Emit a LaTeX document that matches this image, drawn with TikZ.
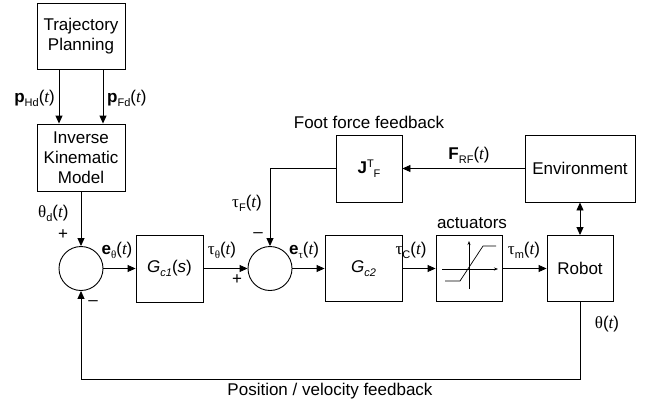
\documentclass[tikz,border=0pt]{standalone}
\usepackage{fontspec}
\setmainfont{Liberation Sans}
\newfontfamily\serifgr{Liberation Serif}
\usetikzlibrary{arrows.meta}
\newcommand\sbx[1]{\raisebox{-4pt}{\fontsize{11}{11}\selectfont #1}}
\newcommand\spx[1]{\raisebox{6pt}{\fontsize{11}{11}\selectfont #1}}
\newcommand\tvar{{\serifgr\itshape t}}
\newcommand\gth{{\serifgr θ}}
\newcommand\gta{{\serifgr τ}}
\begin{document}
\begin{tikzpicture}[x=1pt,y=-1pt,
  font=\fontsize{17}{20}\selectfont,
  blk/.style={draw,line width=0.9pt,inner sep=0pt,align=center},
  sumc/.style={draw,circle,line width=0.9pt,minimum size=44pt,inner sep=0pt},
  arr/.style={line width=0.9pt,-{Triangle[length=8pt,width=7pt]}},
  darr/.style={line width=0.9pt,{Triangle[length=8pt,width=7pt]}-{Triangle[length=8pt,width=7pt]}},
  ln/.style={line width=0.9pt},
  lbl/.style={inner sep=0pt}]
\useasboundingbox (0,0) rectangle (652,409);
% blocks
\node[blk,minimum width=88pt,minimum height=66pt] (traj) at (81,36) {Trajectory\\Planning};
\node[blk,minimum width=88pt,minimum height=67pt] (ikm) at (81,157.5) {Inverse\\Kinematic\\Model};
\node[sumc] (s1) at (81,268.5) {};
\node[blk,minimum width=67pt,minimum height=67pt] (gc1) at (169.5,268.5) {\textit{G}\sbx{\textit{c1}}(\textit{s})};
\node[sumc] (s2) at (270,268.5) {};
\node[blk,minimum width=77pt,minimum height=66pt] (gc2) at (363.5,268.5) {\textit{G}\sbx{\textit{c2}}};
\node[blk,minimum width=66pt,minimum height=66pt] (act) at (469,268.5) {};
\node[blk,minimum width=66pt,minimum height=66pt] (robot) at (580,268.5) {Robot};
\node[blk,minimum width=66pt,minimum height=67pt] (jf) at (369,168.5) {\textbf{J}\spx{T}\sbx{F}};
\node[blk,minimum width=110pt,minimum height=67pt] (env) at (580,168.5) {Environment};
\coordinate (fb) at (81,379);
% saturation symbol
\draw[line width=0.7pt,-{Stealth[length=4pt,width=3pt]}] (442,269) -- (498,269);
\draw[line width=0.7pt,-{Stealth[length=4pt,width=3pt]}] (469,289) -- (469,241);
\draw[line width=0.7pt] (445,281) -- (460,281) -- (483,246) -- (496,246);
% connectors
\draw[arr] ([xshift=-22pt]traj.south) -- ([xshift=-22pt]ikm.north);
\draw[arr] ([xshift=22pt]traj.south) -- ([xshift=22pt]ikm.north);
\draw[arr] (ikm.south) -- (s1.north);
\draw[arr] (s1.east) -- (gc1.west);
\draw[arr] (gc1.east) -- (s2.west);
\draw[arr] (s2.east) -- (gc2.west);
\draw[arr] (gc2.east) -- (act.west);
\draw[arr] (act.east) -- (robot.west);
\draw[arr] (env.west) -- (jf.east);
\draw[arr] (jf.west) -| (s2.north);
\draw[darr] (env.south) -- (robot.north);
\draw[arr] (robot.south) |- (fb) -- (s1.south);
% labels
\node[lbl,anchor=east] (lphd) at (55,98) {\textbf{p}\sbx{Hd}(\tvar)};
\node[lbl,anchor=west] (lpfd) at (107,98) {\textbf{p}\sbx{Fd}(\tvar)};
\node[lbl,anchor=west] (lthd) at (38,213) {\gth\sbx{d}(\tvar)};
\node[lbl] (p1) at (63,235) {+};
\node[lbl] (et) at (117,250) {\textbf{e}\sbx{\gth}(\tvar)};
\node[lbl] (m1) at (93,303) {\textendash};
\node[lbl] (tt) at (222,250) {\gta\sbx{\gth}(\tvar)};
\node[lbl] (p2) at (237,280) {+};
\node[lbl] (tf) at (247,203) {\gta\sbx{F}(\tvar)};
\node[lbl] (m2) at (258,235) {\textendash};
\node[lbl] (etau) at (304,250) {\textbf{e}\sbx{\gta}(\tvar)};
\node[lbl] (tc) at (411,250) {\gta\sbx{C}(\tvar)};
\node[lbl] (tm) at (524,250) {\gta\sbx{m}(\tvar)};
\node[lbl] (th) at (607,324) {\gth(\tvar)};
\node[lbl] (frf) at (469,155) {\textbf{F}\sbx{RF}(\tvar)};
\node[lbl] (fff) at (369,122) {Foot force feedback};
\node[lbl] (acl) at (472,223) {actuators};
\node[lbl] (pvf) at (330,391) {Position / velocity feedback};
\end{tikzpicture}
\end{document}
